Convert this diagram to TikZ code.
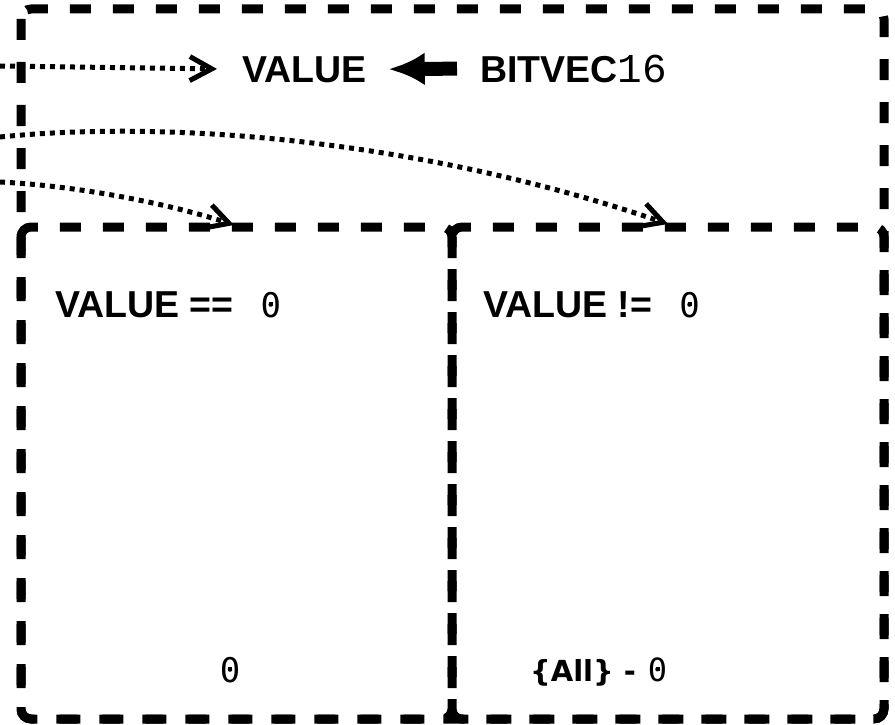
\documentclass[tikz,border=0pt]{standalone}
\usepackage{fontspec}
\setmainfont{Liberation Sans}
\newfontfamily\zeromono{DejaVu Sans Mono}
\newfontfamily\digitmono{Liberation Mono}
\newfontfamily\setfont{DejaVu Sans}
\usetikzlibrary{arrows.meta}
% a dotted zero in the monospaced face
\newcommand\dotzero{{\zeromono\mdseries\ooalign{0\cr\hidewidth\raisebox{0.31em}{\rule{0.12em}{0.12em}}\hidewidth\cr}}}

\begin{document}
\begin{tikzpicture}[x=1pt,y=-1pt,
  frame/.style={line width=9pt, dash pattern=on 21pt off 22pt, rounded corners=10pt},
  dotline/.style={line width=5pt, dash pattern=on 5pt off 5pt,
    -{Straight Barb[length=22pt,width=24pt]}},
  lbl/.style={inner sep=0pt, anchor=base west, font=\fontsize{37.5}{42}\selectfont\bfseries},
]
\useasboundingbox (0,0) rectangle (895,725);

% frames: the whole value, and its two cases
\draw[frame] (21,9) rectangle (884,719);
\draw[frame] (21,227) rectangle (452,719);
\draw[frame] (452,227) rectangle (884,719);

% header: the value and its type
\node[lbl] (val) at (242,82) {VALUE};
\node[lbl] (bv) at (480,82) {BITVEC{\fontsize{41}{44}\digitmono\mdseries 16}};
\draw[line width=14pt, -{Latex[length=36pt,width=33pt]}, shorten >=22pt, shorten <=23pt]
  (bv.west) -- (val.east);

% case labels
\node[lbl] (eq) at (55,317) {VALUE ==\hspace{27pt}{\fontsize{34}{38}\selectfont\dotzero}};
\node[lbl] (ne) at (483,317) {VALUE !=\hspace{27pt}{\fontsize{34}{38}\selectfont\dotzero}};

% case contents
\node[inner sep=0pt, anchor=base, font=\fontsize{34}{38}\selectfont] (zs) at (230,682) {\dotzero};
\node[inner sep=0pt, anchor=base west, font=\fontsize{29}{34}\setfont\bfseries] (rest) at (530,681)
  {\{All\} -\hspace{12pt}{\fontsize{32}{36}\selectfont\dotzero}};

% incoming edges
\coordinate (inA) at (0,66);
\coordinate (inB) at (0,137);
\coordinate (inC) at (0,182);
\coordinate (tgtR) at (668,224);
\coordinate (tgtL) at (234,225);
\draw[dotline, shorten >=25pt] (inA) -- (val.west);
\draw[dotline] (inB) .. controls (190,118) and (440,146) .. (tgtR);
\draw[dotline] (inC) .. controls (80,186) and (170,204) .. (tgtL);
\end{tikzpicture}
\end{document}
